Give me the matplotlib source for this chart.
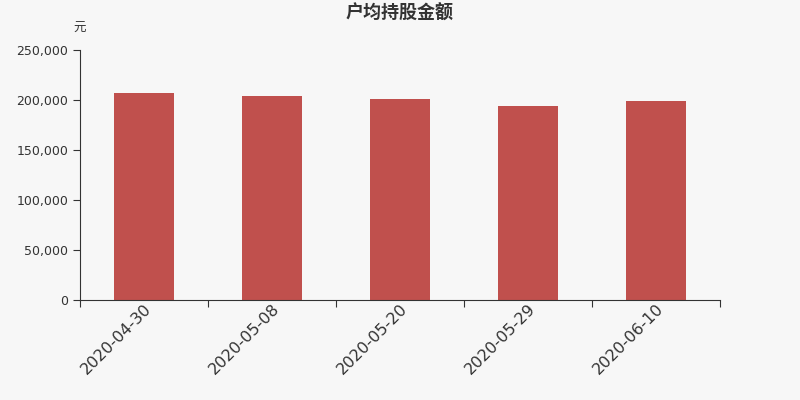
import matplotlib.pyplot as plt
import numpy as np

plt.rcParams['font.family'] = ['DejaVu Sans', 'Noto Sans CJK SC']

dates = ['2020-04-30', '2020-05-08', '2020-05-20', '2020-05-29', '2020-06-10']
values = [207000, 204000, 200700, 194000, 199000]

bg = '#f7f7f7'
fig = plt.figure(figsize=(8, 4), dpi=100, facecolor=bg)
ax = fig.add_axes([0.1, 0.25, 0.8, 0.625], facecolor=bg)

x = np.arange(len(dates))
ax.bar(x, values, width=0.47, color='#c0504d', zorder=2)

ax.set_xlim(-0.5, len(dates) - 0.5)
ax.set_ylim(0, 250000)
ax.set_yticks(np.arange(0, 250001, 50000))
ax.set_yticklabels([f'{v:,}' for v in range(0, 250001, 50000)], fontsize=9, color='#333333')

# ticks sit on category boundaries, labels on centres
ax.set_xticks(np.arange(-0.5, len(dates), 1.0))
ax.set_xticklabels([])
ax.set_xticks(x, minor=True)
ax.set_xticklabels(dates, minor=True, rotation=45, ha='right', rotation_mode='anchor',
                   fontsize=11.5, color='#333333')
ax.tick_params(axis='x', which='minor', length=0, pad=1)
ax.tick_params(axis='x', which='major', length=5, color='#333333')
ax.tick_params(axis='y', length=5, color='#333333')

for s in ['top', 'right']:
    ax.spines[s].set_visible(False)
ax.spines['left'].set_color('#333333')
ax.spines['bottom'].set_color('#333333')

fig.text(0.5, 0.967, '户均持股金额', ha='center', va='center', fontsize=13,
         fontweight='bold', color='#333333', family=['Noto Sans CJK SC'])
fig.text(0.1, 0.93, '元', ha='center', va='center', fontsize=9, color='#333333',
         family=['Noto Sans CJK SC'])

fig.savefig('out.png', dpi=100, facecolor=bg)
